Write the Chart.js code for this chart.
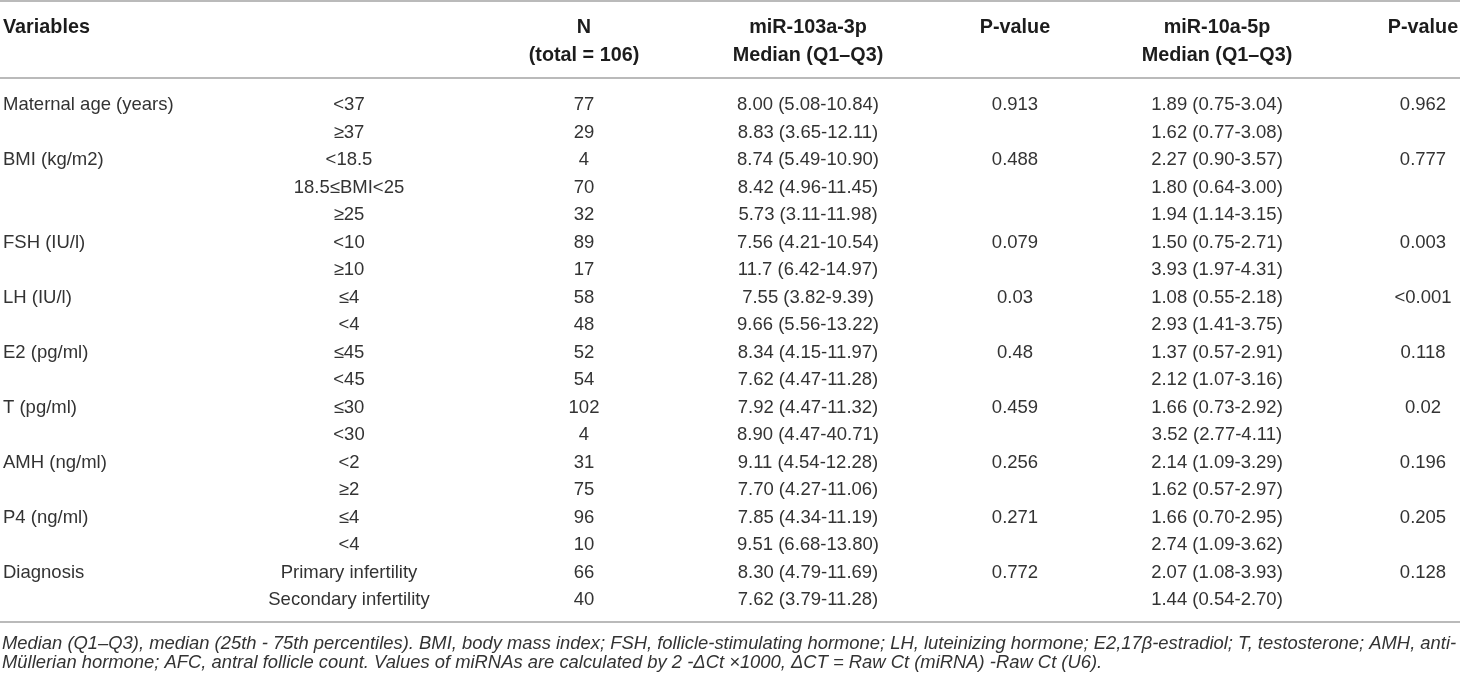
<!DOCTYPE html>
<html lang="en">
<head>
  <meta charset="UTF-8">
  <title>miR-103a-3p and miR-10a-5p by clinical variables</title>
  <style>
    html, body { margin: 0; padding: 0; background: #fff; }
    #tableCanvas { display: block; }
  </style>
</head>
<body>
  <canvas id="tableCanvas" width="1460" height="679"></canvas>

  <script src="https://cdn.jsdelivr.net/npm/chart.js"></script>
  <script>
    // --- table data ---
    const headerTop = ['Variables', '', 'N', 'miR-103a-3p', 'P-value', 'miR-10a-5p', 'P-value'];
    const headerBottom = ['', '', '(total = 106)', 'Median (Q1\u2013Q3)', '', 'Median (Q1\u2013Q3)', ''];

    const variables = ['Maternal age (years)', '', 'BMI (kg/m2)', '', '', 'FSH (IU/l)', '', 'LH (IU/l)', '',
      'E2 (pg/ml)', '', 'T (pg/ml)', '', 'AMH (ng/ml)', '', 'P4 (ng/ml)', '', 'Diagnosis', ''];
    const subgroups = ['<37', '\u226537', '<18.5', '18.5\u2264BMI<25', '\u226525', '<10', '\u226510', '\u22644', '<4',
      '\u226445', '<45', '\u226430', '<30', '<2', '\u22652', '\u22644', '<4', 'Primary infertility', 'Secondary infertility'];
    const nCounts = ['77', '29', '4', '70', '32', '89', '17', '58', '48', '52', '54', '102', '4', '31', '75', '96', '10', '66', '40'];
    const mir103 = ['8.00 (5.08-10.84)', '8.83 (3.65-12.11)', '8.74 (5.49-10.90)', '8.42 (4.96-11.45)', '5.73 (3.11-11.98)',
      '7.56 (4.21-10.54)', '11.7 (6.42-14.97)', '7.55 (3.82-9.39)', '9.66 (5.56-13.22)', '8.34 (4.15-11.97)',
      '7.62 (4.47-11.28)', '7.92 (4.47-11.32)', '8.90 (4.47-40.71)', '9.11 (4.54-12.28)', '7.70 (4.27-11.06)',
      '7.85 (4.34-11.19)', '9.51 (6.68-13.80)', '8.30 (4.79-11.69)', '7.62 (3.79-11.28)'];
    const p103 = ['0.913', '', '0.488', '', '', '0.079', '', '0.03', '', '0.48', '', '0.459', '', '0.256', '', '0.271', '', '0.772', ''];
    const mir10 = ['1.89 (0.75-3.04)', '1.62 (0.77-3.08)', '2.27 (0.90-3.57)', '1.80 (0.64-3.00)', '1.94 (1.14-3.15)',
      '1.50 (0.75-2.71)', '3.93 (1.97-4.31)', '1.08 (0.55-2.18)', '2.93 (1.41-3.75)', '1.37 (0.57-2.91)',
      '2.12 (1.07-3.16)', '1.66 (0.73-2.92)', '3.52 (2.77-4.11)', '2.14 (1.09-3.29)', '1.62 (0.57-2.97)',
      '1.66 (0.70-2.95)', '2.74 (1.09-3.62)', '2.07 (1.08-3.93)', '1.44 (0.54-2.70)'];
    const p10 = ['0.962', '', '0.777', '', '', '0.003', '', '<0.001', '', '0.118', '', '0.02', '', '0.196', '', '0.205', '', '0.128', ''];

    const footnote = [
      'Median (Q1\u2013Q3), median (25th - 75th percentiles). BMI, body mass index; FSH, follicle-stimulating hormone; LH, luteinizing hormone; E2,17\u03b2-estradiol; T, testosterone; AMH, anti-',
      'M\u00fcllerian hormone; AFC, antral follicle count. Values of miRNAs are calculated by 2 -\u0394Ct \u00d71000, \u0394CT = Raw Ct (miRNA) -Raw Ct (U6).'
    ];

    // --- layout (x in canvas units, y in row units) ---
    const columns = [variables, subgroups, nCounts, mir103, p103, mir10, p10];
    const colX = [3, 349, 584, 808, 1015, 1217, 1423];
    const colAlign = ['left', 'center', 'center', 'center', 'center', 'center', 'center'];
    const headerRowY = [-2.8, -1.8];
    const rulesY = [-3.78, -0.98, 18.8];
    const footY = [19.58, 20.28];

    const FONT = '"Liberation Sans", Arial, Helvetica, sans-serif';

    // one dataset per column, one point per cell
    const datasets = columns.map((col, c) => {
      const pts = [];
      pts.push({ x: colX[c], y: headerRowY[0], text: headerTop[c], head: true });
      pts.push({ x: colX[c], y: headerRowY[1], text: headerBottom[c], head: true });
      col.forEach((t, r) => pts.push({ x: colX[c], y: r, text: t, head: false }));
      return { label: 'col' + c, data: pts, pointRadius: 0, pointHoverRadius: 0, showLine: false };
    });

    const tablePlugin = {
      id: 'tableText',
      afterDatasetsDraw(chart) {
        const ctx = chart.ctx;
        const area = chart.chartArea;
        const yScale = chart.scales.y;
        ctx.save();

        // horizontal rules
        ctx.strokeStyle = '#a3a3a3';
        ctx.lineWidth = 1.6;
        rulesY.forEach(v => {
          const py = yScale.getPixelForValue(v);
          ctx.beginPath();
          ctx.moveTo(area.left, py);
          ctx.lineTo(area.right, py);
          ctx.stroke();
        });

        // cell texts
        ctx.textBaseline = 'middle';
        chart.data.datasets.forEach((ds, c) => {
          const meta = chart.getDatasetMeta(c);
          ctx.textAlign = colAlign[c];
          meta.data.forEach((el, i) => {
            const cell = ds.data[i];
            if (!cell.text) return;
            ctx.font = cell.head ? 'bold 19.8px ' + FONT : '18.5px ' + FONT;
            ctx.fillStyle = cell.head ? '#1c1c1c' : '#333333';
            ctx.fillText(cell.text, el.x, el.y);
          });
        });

        // footnote
        ctx.font = 'italic 18.4px ' + FONT;
        ctx.fillStyle = '#333333';
        ctx.textAlign = 'left';
        footnote.forEach((line, i) => {
          ctx.fillText(line, area.left + 2, yScale.getPixelForValue(footY[i]));
        });
        ctx.restore();
      }
    };

    new Chart(document.getElementById('tableCanvas'), {
      type: 'scatter',
      data: { datasets },
      options: {
        responsive: false,
        animation: false,
        devicePixelRatio: 1,
        layout: { padding: 0 },
        events: [],
        plugins: { legend: { display: false }, tooltip: { enabled: false } },
        scales: {
          x: { type: 'linear', display: false, min: 0, max: 1460 },
          y: { type: 'linear', display: false, reverse: true, min: -3.8182, max: 20.8727 }
        }
      },
      plugins: [tablePlugin]
    });
  </script>
</body>
</html>
